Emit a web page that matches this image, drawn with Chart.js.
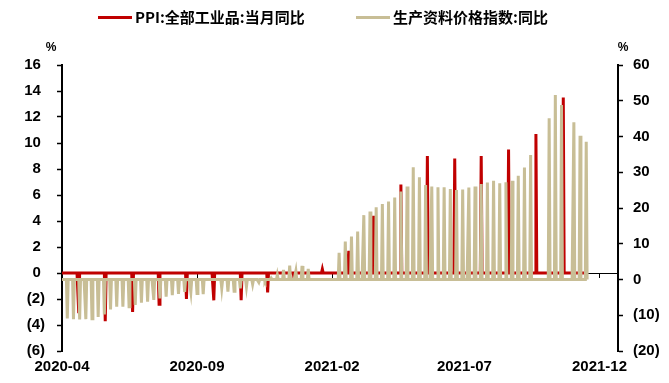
<!DOCTYPE html>
<html>
<head>
<meta charset="utf-8">
<title>PPI 与生产资料价格指数</title>
<script src="https://cdn.jsdelivr.net/npm/chart.js@4.4.1/dist/chart.umd.min.js"></script>
<style>
    html, body { margin: 0; padding: 0; background: #fff; }
</style>
</head>
<body>
<canvas id="chart" width="669" height="383"></canvas>
<script>
// PPI:全部工业品:当月同比 (%), one reading a month
const ppiDates = [
    '2020-04-20', '2020-05-20', '2020-06-20', '2020-07-20', '2020-08-20', '2020-09-20',
    '2020-10-21', '2020-11-20', '2020-12-20', '2021-01-21', '2021-02-20', '2021-03-20',
    '2021-04-20', '2021-05-20', '2021-06-20', '2021-07-20', '2021-08-20', '2021-09-20',
    '2021-10-21',
]
const ppiValues = [
    -3.1, -3.7, -3.0, -2.4, -2.0, -2.1,
    -2.1, -1.5, -0.4, 0.3, 1.7, 4.4,
    6.8, 9.0, 8.8, 9.0, 9.5, 10.7,
    13.5,
]

// 生产资料价格指数:同比 (%), weekly readings
const priceDates = [
    '2020-04-07', '2020-04-14', '2020-04-21', '2020-04-28', '2020-05-05', '2020-05-12',
    '2020-05-19', '2020-05-26', '2020-06-02', '2020-06-09', '2020-06-16', '2020-06-23',
    '2020-06-30', '2020-07-07', '2020-07-14', '2020-07-21', '2020-07-28', '2020-08-04',
    '2020-08-11', '2020-08-18', '2020-08-25', '2020-09-01', '2020-09-08', '2020-09-29',
    '2020-10-06', '2020-10-13', '2020-10-20', '2020-10-27', '2020-11-03', '2020-11-10',
    '2020-11-17', '2020-11-24', '2020-12-01', '2020-12-08', '2020-12-15', '2020-12-22',
    '2020-12-29', '2021-01-05', '2021-02-09', '2021-02-16', '2021-02-23', '2021-03-02',
    '2021-03-09', '2021-03-16', '2021-03-23', '2021-03-30', '2021-04-06', '2021-04-13',
    '2021-04-20', '2021-04-27', '2021-05-04', '2021-05-11', '2021-05-18', '2021-05-25',
    '2021-06-01', '2021-06-08', '2021-06-15', '2021-06-22', '2021-06-29', '2021-07-06',
    '2021-07-13', '2021-07-20', '2021-07-27', '2021-08-03', '2021-08-10', '2021-08-17',
    '2021-08-24', '2021-08-31', '2021-09-07', '2021-09-14', '2021-10-05', '2021-10-12',
    '2021-10-19', '2021-11-02', '2021-11-09', '2021-11-16',
]
const priceValues = [
    -10.9, -11.1, -11.2, -11.1, -11.0, -10.5,
    -9.8, -8.4, -7.6, -7.6, -7.6, -7.1,
    -6.5, -6.2, -5.7, -5.3, -4.8, -4.4,
    -4.0, -3.5, -3.5, -3.9, -4.1, -2.4,
    -3.4, -3.3, -2.5, -2.0, -1.3, -0.8,
    -0.5, 0.4, 1.3, 2.7, 3.9, 2.4,
    3.8, 3.0, 7.5, 10.6, 12.0, 13.4,
    18.0, 19.0, 20.2, 21.1, 21.8, 22.9,
    24.6, 26.0, 31.4, 28.6, 26.4, 26.0,
    25.8, 25.8, 25.3, 25.0, 25.2, 25.7,
    26.0, 26.7, 27.1, 27.6, 26.9, 27.2,
    27.6, 29.0, 31.3, 34.8, 45.1, 51.6,
    48.8, 44.0, 40.2, 38.5,
]

// daily table runs from the axis start to the last day
const seriesStart = '2020-04-01'
const seriesEnd = '2021-11-17'
const axisEnd = '2021-12-22'
const xTickDates = ['2020-04-01', '2020-09-01', '2021-02-01', '2021-07-01', '2021-12-01']

const RED = '#c00000'
const TAN = '#c8be96'
const TICK_FONT = { family: '"Liberation Sans", Arial, sans-serif', size: 15, weight: 'bold' }

const DAY = 86400000
const utc = s => {
    const [y, m, d] = s.split('-').map(Number)
    return Date.UTC(y, m - 1, d)
}
const dayOf = s => Math.round((utc(s) - utc(seriesStart)) / DAY)

// days without a reading sit at 0
function daily(dates, values) {
    const out = []
    for (let d = 0; d <= dayOf(seriesEnd); d++) out.push({ x: d, y: 0 })
    dates.forEach((s, i) => {
        out[dayOf(s)].y = values[i]
    })
    return out
}

function monthLabel(v) {
    const t = new Date(utc(seriesStart) + v * DAY)
    return t.getUTCFullYear() + '-' + String(t.getUTCMonth() + 1).padStart(2, '0')
}

const legendItems = [
    { color: RED, text: 'PPI:全部工业品:当月同比', x: 98 },
    { color: TAN, text: '生产资料价格指数:同比', x: 356 },
]

// legend, unit marks and the little date ticks on the zero line
const decorations = {
    id: 'decorations',
    beforeDatasetsDraw(chart) {
        const { ctx, scales } = chart
        const y0 = scales.y.getPixelForValue(0)
        ctx.save()
        ctx.strokeStyle = '#000'
        ctx.lineWidth = 1
        scales.x.ticks.forEach(t => {
            const px = Math.round(scales.x.getPixelForValue(t.value)) + 0.5
            ctx.beginPath()
            ctx.moveTo(px, y0)
            ctx.lineTo(px, y0 + 5)
            ctx.stroke()
        })
        ctx.restore()
    },
    afterDraw(chart) {
        const { ctx, chartArea } = chart
        ctx.save()
        ctx.fillStyle = '#000'
        ctx.font = 'bold 12px "Liberation Sans", Arial, sans-serif'
        ctx.textAlign = 'center'
        ctx.textBaseline = 'middle'
        ctx.fillText('%', chartArea.left - 11, 48)
        ctx.fillText('%', chartArea.right + 5, 48)

        ctx.font = 'bold 15px "Noto Sans CJK SC", sans-serif'
        ctx.textAlign = 'left'
        legendItems.forEach(item => {
            ctx.fillStyle = item.color
            ctx.fillRect(item.x, 16, 34, 3)
            ctx.fillStyle = '#000'
            ctx.fillText(item.text, item.x + 37, 17.5)
        })
        ctx.restore()
    },
}

new Chart('chart', {
    type: 'line',
    data: {
        datasets: [
            {
                label: 'PPI:全部工业品:当月同比',
                data: daily(ppiDates, ppiValues),
                borderColor: RED,
                borderWidth: 3,
                yAxisID: 'y',
                order: 2,
            },
            {
                label: '生产资料价格指数:同比',
                data: daily(priceDates, priceValues),
                borderColor: TAN,
                borderWidth: 3,
                yAxisID: 'y1',
                order: 1,
            },
        ],
    },
    options: {
        responsive: false,
        animation: false,
        devicePixelRatio: 1,
        layout: { padding: { top: 65, left: 0, right: 0, bottom: 0 } },
        elements: {
            point: { radius: 0 },
            line: { tension: 0, fill: false },
        },
        plugins: {
            legend: { display: false },
            tooltip: { enabled: false },
        },
        scales: {
            x: {
                type: 'linear',
                min: 0,
                max: dayOf(axisEnd),
                grid: { display: false, drawTicks: false },
                border: { display: false },
                afterBuildTicks: s => {
                    s.ticks = xTickDates.map(d => ({ value: dayOf(d) }))
                },
                ticks: {
                    autoSkip: false,
                    maxRotation: 0,
                    padding: 7,
                    color: '#000',
                    font: TICK_FONT,
                    callback: v => monthLabel(v),
                },
                afterFit: s => {
                    s.height = 32
                },
            },
            y: {
                position: 'left',
                min: -6,
                max: 16,
                ticks: {
                    stepSize: 2,
                    padding: 12,
                    color: '#000',
                    font: TICK_FONT,
                    callback: v => (v < 0 ? '(' + -v + ')' : v + ' '),
                },
                grid: {
                    color: c => (c.tick && c.tick.value === 0 ? '#000' : 'rgba(0,0,0,0)'),
                    lineWidth: 1,
                    tickColor: '#000',
                    tickLength: 5,
                    tickWidth: 1.5,
                },
                border: { color: '#000', width: 2 },
                afterFit: s => {
                    s.width = 62
                },
            },
            y1: {
                position: 'right',
                min: -20,
                max: 60,
                ticks: {
                    stepSize: 10,
                    padding: 10,
                    color: '#000',
                    font: TICK_FONT,
                    callback: v => (v < 0 ? '(' + -v + ')' : String(v)),
                },
                grid: {
                    drawOnChartArea: false,
                    tickColor: '#000',
                    tickLength: 5,
                    tickWidth: 1.5,
                },
                border: { color: '#000', width: 2 },
                afterFit: s => {
                    s.width = 51
                },
            },
        },
    },
    plugins: [decorations],
})
</script>
</body>
</html>
